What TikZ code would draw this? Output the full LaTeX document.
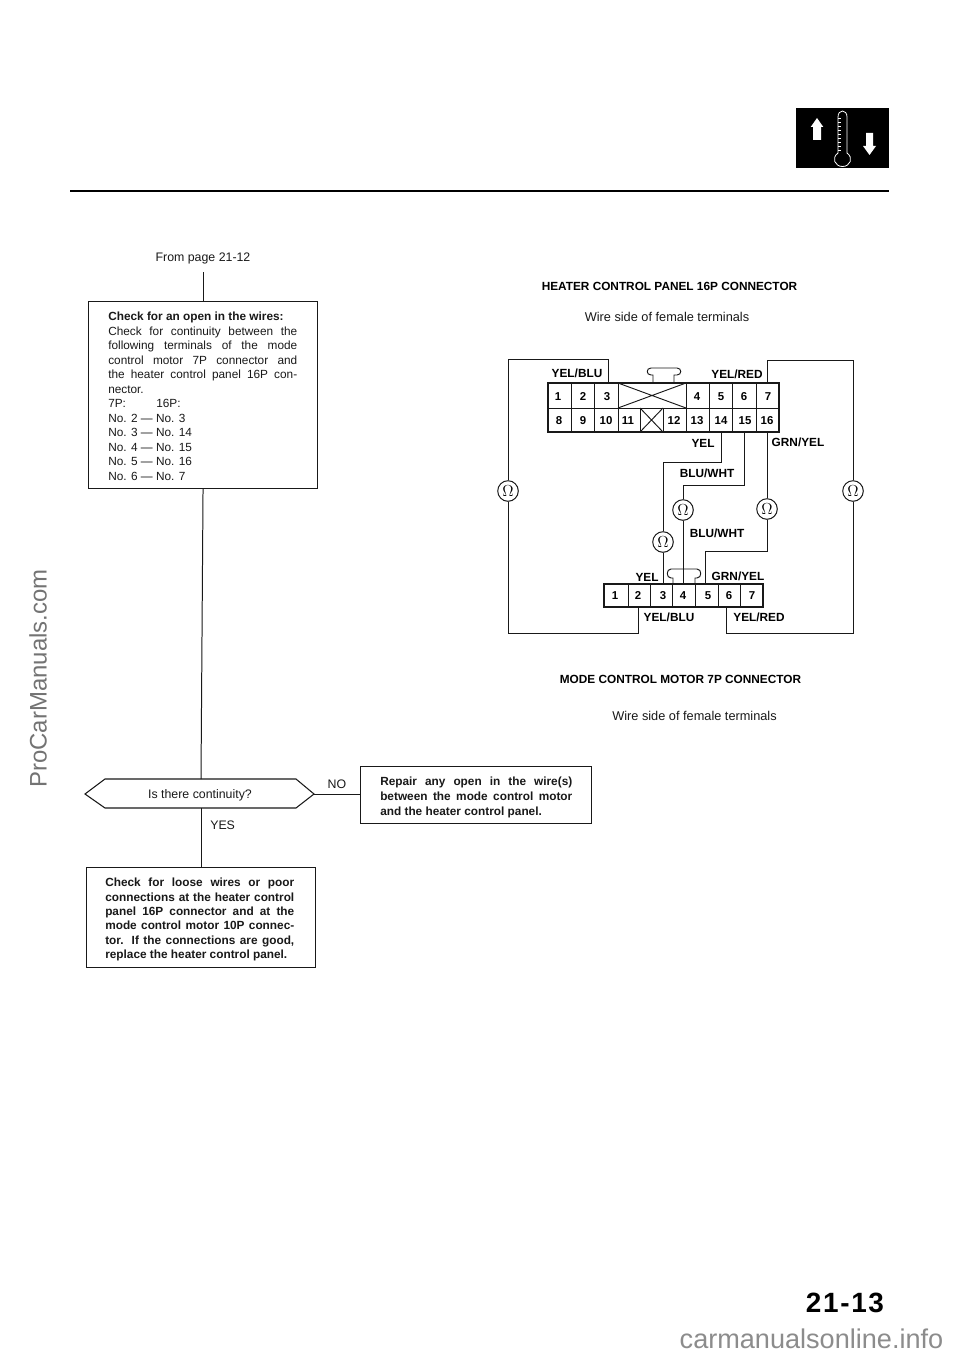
\documentclass[tikz,border=0pt]{standalone}
\usepackage{fontspec}
\setmainfont{Liberation Sans}
\usetikzlibrary{calc}
\newcommand{\jl}[1]{\makebox[141.75bp][s]{#1}}
\tikzset{
 x=0.75bp,y=-0.75bp,
 wire/.style={line width=0.7pt,black!90},
 flow/.style={line width=0.75pt,black!90},
 frame/.style={line width=0.8pt,black!90},
 lab/.style={font=\bfseries\fontsize{8.9}{10}\selectfont,inner sep=0pt,text=black},
 num/.style={font=\bfseries\fontsize{8.6}{10}\selectfont,inner sep=0pt,text=black},
 ohm/.style={circle,draw=black!90,line width=0.75pt,fill=white,minimum size=15.5pt,inner sep=0pt,font=\fontsize{11.5}{11.5}\selectfont},
 body/.style={font=\fontsize{8.9}{10.9}\selectfont,inner sep=0pt,text=black!90},
 bodyb/.style={font=\bfseries\fontsize{8.9}{10.8}\selectfont,inner sep=0pt,text=black!90},
 plain/.style={font=\fontsize{9.3}{10}\selectfont,inner sep=0pt,text=black!90},
 wside/.style={font=\fontsize{9.6}{10}\selectfont,inner sep=0pt,text=black!90},
 head/.style={font=\bfseries\fontsize{8.9}{10}\selectfont,inner sep=0pt,text=black},
}
\begin{document}
\begin{tikzpicture}
\useasboundingbox (0,0) rectangle (960,1356);
\fill[white] (0,0) rectangle (960,1356);
% header
\draw[line width=1.1pt] (70,191) -- (889,191);
\fill[black] (796,108) rectangle (889,168);
\draw[white,line width=0.6pt] (838,153) -- (838,117) .. controls (838,109) and (847,109) .. (847,117) -- (847,153) .. controls (854,158) and (850,166.5) .. (842.5,166.5) .. controls (835,166.5) and (831,158) .. (838,153) -- cycle;
\foreach \yy in {118,122,...,150} \draw[white,line width=0.5pt] (838,\yy) -- (841,\yy);
\fill[white] (817,118) -- (823.3,127) -- (821,127) -- (821,140) -- (813,140) -- (813,127) -- (810.7,127) -- cycle;
\fill[white] (869.5,155) -- (876,146) -- (873,146) -- (873,133) -- (866,133) -- (866,146) -- (863,146) -- cycle;
% flow chart
\node[plain] (from) at (203,258) {From page 21-12};
\node[draw=black!90,frame,minimum width=171.75bp,minimum height=140.25bp,inner sep=0pt,anchor=north west] (b1) at (88,301) {};
\node[body,anchor=north west,align=left] (t1) at (108,312) {{\bfseries Check for an open in the wires:}\\
\jl{Check for continuity between the}\\
\jl{following terminals of the mode}\\
\jl{control motor 7P connector and}\\
\jl{the heater control panel 16P con-}\\
nector.\\
\makebox[36bp][l]{7P:}16P:\\
No. 2 — No. 3\\
No. 3 — No. 14\\
No. 4 — No. 15\\
No. 5 — No. 16\\
No. 6 — No. 7};
\coordinate (hl) at (85,794);
\coordinate (hr) at (314,794);
\draw[frame] (hl) -- (105,779) -- (296,779) -- (hr) -- (296,808) -- (105,808) -- cycle;
\coordinate (htop) at (201,779);
\coordinate (hbot) at (201,808);
\node[plain] (q) at (200,795) {Is there continuity?};
\node[plain] (no) at (337,784) {NO};
\node[plain,anchor=west] (yes) at (210,825) {YES};
\node[frame,draw=black!90,minimum width=173.25bp,minimum height=42.75bp,inner sep=0pt,anchor=north west] (b2) at (360,766) {};
\node[bodyb,anchor=north west,align=left,font=\bfseries\fontsize{8.9}{11.2}\selectfont] (t2) at (380,777) {\makebox[144bp][s]{Repair any open in the wire(s)}\\ \makebox[144bp][s]{between the mode control motor}\\ and the heater control panel.};
\node[frame,draw=black!90,minimum width=171.75bp,minimum height=75bp,inner sep=0pt,anchor=north west] (b3) at (86,867) {};
\node[bodyb,anchor=north west,align=left] (t3) at (105,878) {\jl{Check for loose wires or poor}\\ \jl{connections at the heater control}\\ \jl{panel 16P connector and at the}\\ \jl{mode control motor 10P connec-}\\ \jl{tor. If the connections are good,}\\ replace the heater control panel.};
\coordinate (ftop) at (203,272);
\draw[flow] (ftop) -- (ftop |- b1.north);
\draw[flow] (b1.south) -- (htop);
\draw[flow] (hbot) -- (b3.north -| hbot);
\draw[flow] (hr) -- (hr -| b2.west);
% titles
\node[head] (h1) at (669.5,286) {HEATER CONTROL PANEL 16P CONNECTOR};
\node[wside] (w1) at (667,317) {Wire side of female terminals};
\node[head] (h2) at (680.5,679) {MODE CONTROL MOTOR 7P CONNECTOR};
\node[wside] (w2) at (694.5,716) {Wire side of female terminals};
% 16P connector
\draw[frame] (548,383) rectangle (779,432);
\draw[wire] (548,408) -- (779,408);
\foreach \xx in {571,594,618,686,709,732,756} \draw[wire] (\xx,383) -- (\xx,408);
\foreach \xx in {571,594,618,640,663,686,709,732,756} \draw[wire] (\xx,408) -- (\xx,432);
\draw[wire] (618,383) -- (686,408) (618,408) -- (686,383);
\draw[wire] (640,408) -- (663,432) (640,432) -- (663,408);
\draw[wire] (653,383) -- (653,375) -- (651,375) .. controls (646,375) and (646,368) .. (651,368) -- (677,368) .. controls (682,368) and (682,375) .. (677,375) -- (674,375) -- (674,383);
\foreach \xx/\n in {558/1,583/2,607/3,697/4,721/5,744/6,768/7} \node[num] (u\n) at (\xx,397) {\n};
\foreach \xx/\n in {559/8,583/9,606/10,628/11,674/12,697/13,721/14,745/15,767/16} \node[num] (u\n) at (\xx,421) {\n};
% 7P connector
\draw[frame] (604,584) rectangle (763,607);
\foreach \xx in {628,650,672,695,718,740} \draw[wire] (\xx,584) -- (\xx,607);
\draw[wire] (673,584) -- (673,578) -- (671,578) .. controls (666,578) and (666,569) .. (671,569) -- (697,569) .. controls (702,569) and (702,578) .. (697,578) -- (695,578) -- (695,584);
\foreach \xx/\n in {615/1,638/2,663/3,683/4,708/5,729/6,752/7} \node[num] (m\n) at (\xx,596) {\n};
% meters
\node[ohm] (o1) at (508,491) {$\Omega$};
\node[ohm] (o2) at (853,491) {$\Omega$};
\node[ohm] (o3) at (663,542) {$\Omega$};
\node[ohm] (o4) at (683,510) {$\Omega$};
\node[ohm] (o5) at (767,509) {$\Omega$};
% wires
\coordinate (w3) at (608,383);
\coordinate (w7) at (767,383);
\coordinate (w14) at (721,432);
\coordinate (w15) at (744,432);
\coordinate (w16) at (767,432);
\coordinate (p2) at (638,607);
\coordinate (p3) at (663,584);
\coordinate (p4) at (683,584);
\coordinate (p5) at (705,584);
\coordinate (p6) at (726,607);
\draw[wire] (o1.north) |- (608,359) -- (w3);
\draw[wire] (o2.north) |- (767,360) -- (w7);
\draw[wire] (w14) |- (663,462) -- (o3.north);
\draw[wire] (w15) |- (683,485) -- (o4.north);
\draw[wire] (w16) -- (o5.north);
\draw[wire] (o3.south) -- (p3);
\draw[wire] (o4.south) -- (p4);
\draw[wire] (o5.south) |- (705,551) -- (p5);
\draw[wire] (o1.south) |- (638,633) -- (p2);
\draw[wire] (o2.south) |- (726,633) -- (p6);
% wire labels
\node[lab] (l1) at (577,373) {YEL/BLU};
\node[lab] (l2) at (737,374) {YEL/RED};
\node[lab] (l3) at (703,443) {YEL};
\node[lab] (l4) at (798,442) {GRN/YEL};
\node[lab] (l5) at (707,473) {BLU/WHT};
\node[lab] (l6) at (717,533) {BLU/WHT};
\node[lab] (l7) at (647,577) {YEL};
\node[lab] (l8) at (738,576) {GRN/YEL};
\node[lab] (l9) at (669,617) {YEL/BLU};
\node[lab] (l10) at (759,617) {YEL/RED};
% page number
\node[font=\bfseries\fontsize{21}{22}\selectfont\addfontfeature{LetterSpace=6},inner sep=0pt,text=black] (pg) at (845,1303) {21-13};
% watermarks
\node[font=\fontsize{18}{20}\selectfont,inner sep=0pt,text=black!55,rotate=90] (wm) at (38,678.5) {ProCarManuals.com};
\node[font=\fontsize{20.4}{22}\selectfont,inner sep=0pt,text=black!45,anchor=base] (wm2) at (811.5,1348) {carmanualsonline.info};
\end{tikzpicture}
\end{document}
